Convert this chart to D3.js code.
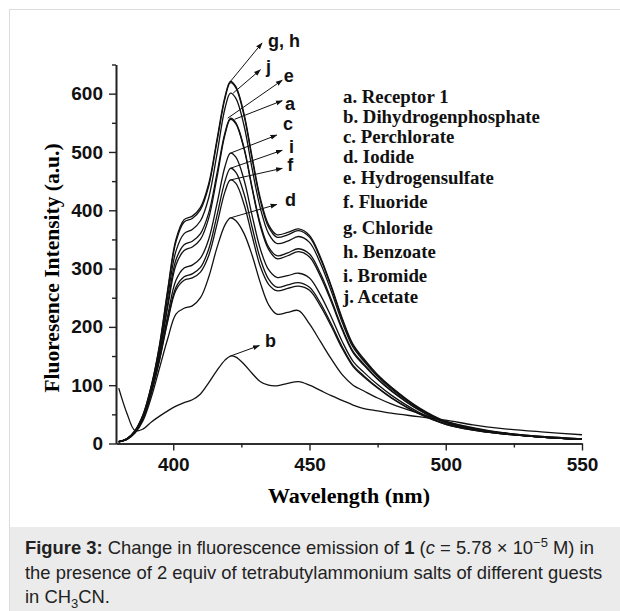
<!DOCTYPE html>
<html>
<head>
<meta charset="utf-8">
<script src="https://cdn.jsdelivr.net/npm/d3@7"></script>
<style>
  body { margin: 0; background: #fff; }
  svg { display: block; }
</style>
</head>
<body>
<svg id="chart" width="620" height="611"></svg>
<script>
// wavelengths (nm) shared by every spectrum
let wavelengths = [380,383,386,389,392,395,398,401,404,407,410,413,416,419,421,423,426,429,432,435,438,442,446,450,454,458,462,466,470,475,480,490,500,510,520,535,550]

// intensities, one list per guest
let serieA = [3,8,21,47,93,155,235,306,331,337,350,386,455,530,556,548,505,436,372,333,317,322,329,320,287,243,195,156,134,110,90,58,36,25,18,11,7]
let serieB = [95,52,22,25,37,47,56,64,70,75,85,104,125,143,150,148,136,120,106,100,99,103,106,100,91,82,74,66,60,56,52,46,40,32,26,20,15]
let serieC = [3,7,20,45,90,148,220,280,301,306,318,350,410,475,498,491,452,390,333,298,285,288,292,284,255,217,175,141,122,101,83,54,34,24,17,11,7]
let serieD = [3,7,18,40,80,130,180,222,232,236,250,285,335,375,387,382,360,322,275,238,222,225,228,205,175,145,118,100,90,78,68,52,38,27,19,12,8]
let serieE = [3,8,21,47,94,157,240,315,341,347,360,395,462,533,558,550,507,438,376,337,322,327,334,325,292,247,198,158,136,111,91,58,36,25,18,11,7]
let serieF = [3,7,20,44,87,143,210,263,280,284,294,322,375,432,452,446,410,355,303,273,262,266,270,263,236,201,163,132,114,95,78,51,33,23,17,11,7]
let serieG = [3,8,22,50,100,170,265,350,384,390,405,445,520,595,621,612,565,490,420,375,358,362,368,357,320,270,215,170,145,118,97,62,38,26,19,12,8]
let serieH = [3,8,22,50,99,168,262,346,380,386,401,441,516,592,619,610,562,487,416,371,354,358,365,354,317,268,213,168,143,117,96,61,37,25,18,11,7]
let serieI = [3,7,20,44,88,145,213,268,286,291,302,333,390,450,472,465,428,370,316,282,268,272,276,268,241,205,166,134,116,96,79,52,33,23,17,11,7]
let serieJ = [3,8,21,48,97,163,252,330,360,367,382,421,495,575,601,592,545,470,403,360,343,347,355,345,309,261,208,165,141,115,94,60,37,25,18,11,7]

let legendLabels = ["a. Receptor 1","b. Dihydrogenphosphate","c. Perchlorate","d. Iodide","e. Hydrogensulfate","f. Fluoride","g. Chloride","h. Benzoate","i. Bromide","j. Acetate"]

let yTicks = [0,100,200,300,400,500,600]
let yMinor = [50,150,250,350,450,550,650]
let xTicks = [400,450,500,550]
let xMinor = [425,475,525]

// arrows : start on the curve, tip near the letter (data units)
let arrowLabels = ["g, h","j","e","a","c","i","f","d","b"]
let arrowFrom = [[421,621],[422,601],[420,558],[422.5,556],[421,498],[421,472],[421,452],[421,387],[421,150]]
let arrowTo = [[432.6,687],[432,641],[440,623],[440,588],[438,529],[440,503],[440,472],[438,410],[431.6,168]]
let arrowText = [[434.8,680],[434,635],[440.6,620],[441,572],[440.3,538],[442.5,499],[441.8,467],[441,407],[433.7,165]]

let series = [serieA,serieB,serieC,serieD,serieE,serieF,serieG,serieH,serieI,serieJ]

var svg = d3.select("#chart")

// frame and caption box
svg.append("rect").attr("x",9.5).attr("y",9.5).attr("width",640).attr("height",640)
  .attr("fill","#fff").attr("stroke","#dcdcdc").attr("stroke-width",1)
svg.append("rect").attr("x",10).attr("y",527).attr("width",610).attr("height",84).attr("fill","#ebebeb")

var x = d3.scaleLinear().domain([379,550]).range([116,582])
var y = d3.scaleLinear().domain([0,650]).range([443.5,64.5])

var line = d3.line()
  .x(function(d,i){return x(wavelengths[i])})
  .y(function(d){return y(d)})
  .curve(d3.curveCatmullRom.alpha(0.5))

svg.append("g").selectAll("path").data(series).enter().append("path")
  .attr("d", function(d){return line(d)})
  .attr("fill","none").attr("stroke","#111").attr("stroke-width",1.3)

// axes
var axisColor = "#222"
function styleAxis(g){
  g.select(".domain").attr("stroke",axisColor).attr("stroke-width",1.6)
  g.selectAll(".tick line").attr("stroke",axisColor).attr("stroke-width",1.4)
  g.selectAll(".tick text").attr("fill","#111")
    .style("font-family","'Liberation Sans', Arial, sans-serif").style("font-weight","bold").style("font-size","19px")
}
var gy = svg.append("g").attr("transform","translate(116,0)")
  .call(d3.axisLeft(y).tickValues(yTicks).tickSize(7).tickSizeOuter(0).tickPadding(6).tickFormat(d3.format("d")))
styleAxis(gy)
var gyMinor = svg.append("g").attr("transform","translate(116,0)")
  .call(d3.axisLeft(y).tickValues(yMinor).tickSize(4).tickSizeOuter(0).tickFormat(""))
styleAxis(gyMinor)

var gx = svg.append("g").attr("transform","translate(0,443.5)")
  .call(d3.axisBottom(x).tickValues(xTicks).tickSize(7).tickSizeOuter(0).tickPadding(7).tickFormat(d3.format("d")))
styleAxis(gx)
var gxMinor = svg.append("g").attr("transform","translate(0,443.5)")
  .call(d3.axisBottom(x).tickValues(xMinor).tickSize(4).tickSizeOuter(0).tickFormat(""))
styleAxis(gxMinor)

// axis titles
svg.append("text").text("Wavelength (nm)").attr("x",349).attr("y",503).attr("text-anchor","middle")
  .style("font-family","'Liberation Serif', 'Times New Roman', serif").style("font-weight","bold").style("font-size","22px")
svg.append("text").text("Fluoresence Intensity (a.u.)")
  .attr("transform","translate(59,268) rotate(-90)").attr("text-anchor","middle")
  .style("font-family","'Liberation Serif', 'Times New Roman', serif").style("font-weight","bold").style("font-size","21.5px")

// arrow heads
svg.append("defs").append("marker").attr("id","head")
  .attr("viewBox","0 0 10 10").attr("refX",9).attr("refY",5)
  .attr("markerWidth",7).attr("markerHeight",7).attr("markerUnits","userSpaceOnUse")
  .attr("orient","auto")
  .append("path").attr("d","M0,1.5 L10,5 L0,8.5 Z").attr("fill","#111")

svg.append("g").selectAll("line").data(arrowFrom).enter().append("line")
  .attr("x1",function(d){return x(d[0])}).attr("y1",function(d){return y(d[1])})
  .attr("x2",function(d,i){return x(arrowTo[i][0])}).attr("y2",function(d,i){return y(arrowTo[i][1])})
  .attr("stroke","#111").attr("stroke-width",1).attr("marker-end","url(#head)")

svg.append("g").selectAll("text").data(arrowLabels).enter().append("text")
  .text(function(d){return d})
  .attr("x",function(d,i){return x(arrowText[i][0])}).attr("y",function(d,i){return y(arrowText[i][1])})
  .style("font-family","'Liberation Sans', Arial, sans-serif").style("font-weight","bold").style("font-size","18px")
  .attr("fill","#111")

// legend
var legendY = [103,123,143,163,184,208,234,258,282,303]
svg.append("g").selectAll("text").data(legendLabels).enter().append("text")
  .text(function(d){return d})
  .attr("x",343).attr("y",function(d,i){return legendY[i]})
  .style("font-family","'Liberation Serif', 'Times New Roman', serif").style("font-weight","bold").style("font-size","18.8px")
  .attr("fill","#111")

// caption
var cap = svg.append("g").style("font-family","'Liberation Sans', Arial, sans-serif").style("font-size","18.4px").attr("fill","#222")
var l1 = cap.append("text").attr("x",25).attr("y",554)
l1.append("tspan").text("Figure 3:").style("font-weight","bold")
l1.append("tspan").text(" Change in fluorescence emission of ")
l1.append("tspan").text("1").style("font-weight","bold")
l1.append("tspan").text(" (")
l1.append("tspan").text("c").style("font-style","italic")
l1.append("tspan").text(" = 5.78 × 10")
l1.append("tspan").text("−5").attr("dy",-7).style("font-size","13px")
l1.append("tspan").text(" M) in").attr("dy",7)
cap.append("text").attr("x",25).attr("y",579).text("the presence of 2 equiv of tetrabutylammonium salts of different guests")
var l3 = cap.append("text").attr("x",25).attr("y",603)
l3.append("tspan").text("in CH")
l3.append("tspan").text("3").attr("dy",5).style("font-size","13px")
l3.append("tspan").text("CN.").attr("dy",-5)
</script>
</body>
</html>
